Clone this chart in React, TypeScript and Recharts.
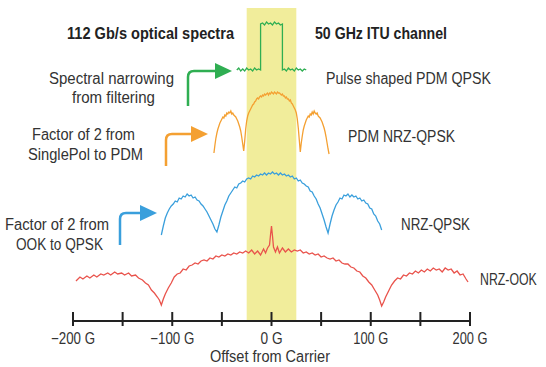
import {
  ComposedChart,
  Line,
  XAxis,
  YAxis,
  ReferenceArea,
} from "recharts";

// offset from carrier, GHz
const TICKS = [-200, -150, -100, -50, 0, 50, 100, 150, 200];

// relative level of each trace (stacked, arbitrary units)
const ookFreq = [
  -197, -193, -190, -186, -183, -179, -176, -172, -169, -165, -162, -158, -155,
  -151, -148, -144, -141, -137, -134, -130, -127, -124, -121, -118, -115, -113,
  -111, -109, -107, -104, -101, -98, -95, -92, -89, -86, -83, -80, -77, -74,
  -71, -68, -65, -62, -59, -56, -53, -50, -47, -44, -41, -38, -35, -32, -29,
  -26, -23, -20, -17, -14, -11, -8, -6, -4, -2, -1, 0, 1, 2, 4, 6, 8, 11, 14,
  17, 20, 23, 26, 29, 32, 35, 38, 41, 44, 47, 50, 53, 56, 59, 62, 65, 68, 71,
  74, 77, 80, 83, 86, 89, 92, 95, 98, 101, 104, 107, 109, 111, 113, 115, 118,
  121, 124, 127, 130, 133, 136, 139, 142, 145, 148, 151, 154, 157, 160, 163,
  166, 169, 172, 175, 178, 181, 184, 187, 190, 193, 196, 198,
];
const ookLevel = [
  40, 44, 42, 45, 43, 46, 44, 47, 46, 48, 46, 49, 47, 48, 46, 48, 45, 46, 43,
  41, 38, 36, 31, 28, 24, 21, 16, 22, 27, 33, 38, 44, 47, 48, 52, 51, 55, 56,
  58, 57, 60, 61, 60, 63, 62, 65, 64, 66, 65, 67, 66, 68, 67, 69, 68, 70, 68,
  71, 67, 70, 66, 72, 68, 73, 76, 86, 95, 85, 74, 69, 74, 68, 73, 69, 72, 69,
  71, 70, 71, 68, 69, 67, 68, 66, 67, 64, 65, 63, 62, 63, 60, 61, 58, 57, 57,
  54, 53, 50, 49, 45, 43, 39, 36, 31, 26, 21, 15, 19, 24, 30, 36, 40, 43, 42,
  46, 45, 48, 47, 50, 48, 51, 49, 52, 50, 53, 51, 52, 49, 53, 51, 52, 48, 50,
  46, 47, 42, 39,
];

const qpskFreq = [
  -111, -109, -107, -105, -103, -101, -99, -97, -95, -93, -91, -89, -87, -85,
  -83, -81, -79, -77, -75, -73, -71, -69, -67, -65, -63, -61, -59, -57, -55,
  -53, -51, -49, -47, -45, -43, -41, -39, -37, -35, -33, -31, -29, -27, -25,
  -23, -21, -19, -17, -15, -13, -11, -9, -7, -5, -3, -1, 1, 3, 5, 7, 9, 11, 13,
  15, 17, 19, 21, 23, 25, 27, 29, 31, 33, 35, 37, 39, 41, 43, 45, 47, 49, 51,
  53, 55, 57, 59, 61, 63, 65, 67, 69, 71, 73, 75, 77, 79, 81, 83, 85, 87, 89,
  91, 93, 95, 97, 99, 101, 103, 105, 107, 109, 111,
];
const qpskLevel = [
  86, 95, 103, 108, 112, 115, 117, 120, 119, 123, 122, 125, 124, 127, 125, 126,
  123, 124, 121, 120, 117, 115, 112, 109, 105, 101, 97, 92, 89, 96, 104, 110,
  116, 120, 125, 128, 131, 134, 133, 137, 138, 140, 139, 142, 143, 142, 145,
  144, 146, 145, 147, 146, 148, 146, 148, 147, 149, 147, 148, 146, 148, 146,
  147, 145, 146, 144, 145, 142, 143, 140, 141, 138, 137, 135, 134, 130, 129,
  125, 122, 117, 113, 107, 101, 94, 88, 97, 105, 111, 116, 119, 123, 122, 126,
  125, 127, 124, 126, 124, 125, 122, 123, 120, 121, 118, 117, 113, 112, 107,
  105, 100, 97, 91,
];

const pdmFreq = [
  -58, -57, -56, -55, -54, -53, -52, -51, -50, -49, -48, -47, -46, -45, -44,
  -43, -42, -41, -40, -39, -38, -37, -36, -35, -34, -33, -32, -31, -30, -29,
  -28, -27, -26, -25, -24, -23, -22, -21, -20, -19, -18, -17, -16, -15, -14,
  -13, -12, -11, -10, -9, -8, -7, -6, -5, -4, -3, -2, -1, 0, 1, 2, 3, 4, 5, 6,
  7, 8, 9, 10, 11, 12, 13, 14, 15, 16, 17, 18, 19, 20, 21, 22, 23, 24, 25, 26,
  27, 28, 29, 30, 31, 32, 33, 34, 35, 36, 37, 38, 39, 40, 41, 42, 43, 44, 45,
  46, 47, 48, 49, 50, 51, 52, 53, 54, 55, 56, 57, 58,
];
const pdmLevel = [
  168, 176, 183, 188, 192, 195, 198, 200, 202, 204, 203, 206, 205, 208, 207,
  209, 208, 210, 207, 208, 206, 205, 204, 202, 200, 197, 194, 190, 184, 177,
  170, 180, 192, 200, 205, 208, 210, 212, 214, 216, 217, 219, 220, 222, 223,
  222, 224, 225, 224, 226, 225, 227, 226, 227, 228, 226, 228, 227, 229, 228,
  227, 229, 228, 227, 229, 228, 228, 227, 226, 227, 225, 225, 223, 224, 222,
  222, 220, 221, 218, 217, 215, 213, 211, 208, 202, 193, 181, 169, 178, 185,
  191, 195, 198, 201, 203, 205, 204, 207, 206, 209, 207, 210, 208, 207, 208,
  205, 204, 203, 201, 199, 196, 193, 189, 184, 178, 172, 167,
];

const shapedFreq = [
  -35, -33, -31, -29, -27, -25, -23, -21, -19, -17, -15, -13, -11, -11, -9, -7,
  -5, -3, -1, 1, 3, 5, 7, 9, 11, 11, 13, 15, 17, 19, 21, 23, 25, 27, 29, 31,
  33, 35,
];
const shapedLevel = [
  251, 253, 250, 252, 250, 253, 251, 252, 250, 253, 251, 252, 251, 297, 298,
  296, 299, 297, 298, 296, 299, 297, 298, 296, 297, 251, 252, 250, 253, 251,
  252, 250, 253, 251, 252, 250, 252, 251,
];

const toRows = (freq: number[], level: number[]) =>
  freq.map((x, i) => ({ x, v: level[i] }));

const ookData = toRows(ookFreq, ookLevel);
const qpskData = toRows(qpskFreq, qpskLevel);
const pdmData = toRows(pdmFreq, pdmLevel);
const shapedData = toRows(shapedFreq, shapedLevel);

// no condensed face installed, so text is squeezed to the reference widths
const FONT = "'Liberation Sans', Arial, sans-serif";
const TEXT = "#333";

const RED = "#e9534c";
const BLUE = "#3a9fdc";
const ORANGE = "#f4a032";
const GREEN = "#2fae52";

const fmtTick = (v: number) =>
  v === 0 ? "0 G" : v < 0 ? `\u2212${-v} G` : `${v} G`;

const tickWidth = (v: number) => (v === 0 ? 22 : v < 0 ? 44 : 35);

const Note = ({
  x,
  y,
  w,
  children,
  anchor = "start",
  bold = false,
}: {
  x: number;
  y: number;
  w: number;
  children: string;
  anchor?: "start" | "middle" | "end";
  bold?: boolean;
}) => (
  <text
    x={x}
    y={y}
    textAnchor={anchor}
    dominantBaseline="central"
    fontFamily={FONT}
    fontSize={16}
    fontWeight={bold ? 700 : 400}
    fill={bold ? "#222" : TEXT}
    textLength={w}
    lengthAdjust="spacingAndGlyphs"
  >
    {children}
  </text>
);

// same look, squeezed with a transform so its box stays inside the page
const SqueezedNote = ({
  x,
  y,
  sx,
  children,
}: {
  x: number;
  y: number;
  sx: number;
  children: string;
}) => (
  <text
    transform={`translate(${x},${y}) scale(${sx},1)`}
    x={0}
    y={0}
    dominantBaseline="central"
    fontFamily={FONT}
    fontSize={16}
    fill={TEXT}
  >
    {children}
  </text>
);

const AxisTick = (props: any) => {
  const { x, y, payload } = props;
  const v = payload.value;
  return (
    <g>
      <line x1={x} x2={x} y1={y - 9} y2={y + 5} stroke="#222" strokeWidth={2} />
      {v % 100 === 0 && (
        <Note x={x} y={y + 17} w={tickWidth(v)} anchor="middle">
          {fmtTick(v)}
        </Note>
      )}
    </g>
  );
};

// bent arrow: up from (x, y0), turn right at yTurn, head ends at xTip
const Arrow = ({
  x,
  y0,
  yTurn,
  xTip,
  color,
}: {
  x: number;
  y0: number;
  yTurn: number;
  xTip: number;
  color: string;
}) => {
  const r = 6;
  const headLen = 17;
  const headHalf = 8;
  const xHead = xTip - headLen;
  return (
    <g>
      <path
        d={`M${x},${y0} L${x},${yTurn + r} Q${x},${yTurn} ${x + r},${yTurn} L${xHead + 2},${yTurn}`}
        fill="none"
        stroke={color}
        strokeWidth={2.5}
      />
      <path
        d={`M${xHead},${yTurn - headHalf} L${xTip},${yTurn} L${xHead},${yTurn + headHalf} Z`}
        fill={color}
      />
    </g>
  );
};

export default function App() {
  return (
    <div style={{ position: "absolute", left: 0, top: 0, background: "#fff" }}>
      <ComposedChart
        width={546}
        height={367}
        margin={{ top: 8, right: 76, bottom: 0, left: 73 }}
      >
        <XAxis
          dataKey="x"
          type="number"
          domain={[-200, 200]}
          ticks={TICKS}
          interval={0}
          tickSize={0}
          tickMargin={0}
          tick={<AxisTick />}
          axisLine={{ stroke: "#222", strokeWidth: 2 }}
          height={46}
        />
        <YAxis type="number" domain={[0, 313]} hide />

        <ReferenceArea
          x1={-25}
          x2={25}
          fill="#f1ed9b"
          fillOpacity={1}
          stroke="none"
        />

        <Line
          data={ookData}
          dataKey="v"
          type="linear"
          stroke={RED}
          strokeWidth={1.3}
          dot={false}
          isAnimationActive={false}
        />
        <Line
          data={qpskData}
          dataKey="v"
          type="linear"
          stroke={BLUE}
          strokeWidth={1.3}
          dot={false}
          isAnimationActive={false}
        />
        <Line
          data={pdmData}
          dataKey="v"
          type="linear"
          stroke={ORANGE}
          strokeWidth={1.3}
          dot={false}
          isAnimationActive={false}
        />
        <Line
          data={shapedData}
          dataKey="v"
          type="linear"
          stroke={GREEN}
          strokeWidth={1.3}
          dot={false}
          isAnimationActive={false}
        />

        <Note x={67} y={33} w={167} bold>
          112 Gb/s optical spectra
        </Note>
        <Note x={315} y={33} w={132} bold>
          50 GHz ITU channel
        </Note>

        <Note x={49} y={78} w={125}>Spectral narrowing</Note>
        <Note x={72} y={97} w={83}>from filtering</Note>
        <Note x={326} y={78} w={165}>Pulse shaped PDM QPSK</Note>

        <Note x={32} y={134} w={103}>Factor of 2 from</Note>
        <Note x={28} y={154} w={115}>SinglePol to PDM</Note>
        <Note x={348} y={136} w={107}>PDM NRZ-QPSK</Note>

        <Note x={5} y={224} w={104}>Factor of 2 from</Note>
        <Note x={16} y={244} w={87}>OOK to QPSK</Note>
        <Note x={401} y={224} w={69}>NRZ-QPSK</Note>

        <SqueezedNote x={480} y={279} sx={0.77}>NRZ-OOK</SqueezedNote>

        <Note x={270} y={356} w={120} anchor="middle">
          Offset from Carrier
        </Note>

        <Arrow x={188} y0={106} yTurn={71} xTip={232} color={GREEN} />
        <Arrow x={166} y0={166} yTurn={134} xTip={208} color={ORANGE} />
        <Arrow x={120} y0={245} yTurn={213} xTip={157} color={BLUE} />
      </ComposedChart>
    </div>
  );
}
